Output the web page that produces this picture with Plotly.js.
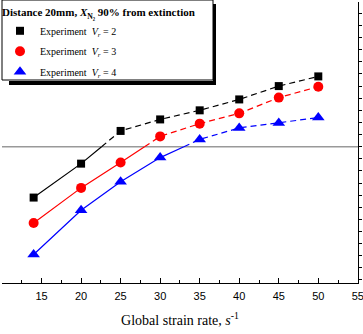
<!DOCTYPE html>
<html>
<head>
<meta charset="utf-8">
<script src="https://cdn.plot.ly/plotly-3.0.1.min.js"></script>
<style>html,body{margin:0;padding:0;background:#fff}#chart{width:363px;height:334px}</style>
</head>
<body>
<div id="chart"></div>
<script>
// ---- data (y axis carries no labels, units = tick steps) ----
const strainRate = [14, 20, 25, 30, 35, 40, 45, 50];
const vr2 = [-4.2, -1.4, 1.3, 2.25, 3.0, 3.9, 5.0, 5.8];
const vr3 = [-6.3, -3.4, -1.3, 0.85, 1.9, 2.75, 4.05, 4.95];
const vr4 = [-8.9, -5.25, -2.9, -0.9, 0.6, 1.55, 1.95, 2.4];
const extinctionLevel = 0;
const seriesNames = ['Experiment\u00a0\u00a0<i>V</i><sub><i>r</i></sub>\u00a0= 2',
                     'Experiment\u00a0\u00a0<i>V</i><sub><i>r</i></sub>\u00a0= 3',
                     'Experiment\u00a0\u00a0<i>V</i><sub><i>r</i></sub>\u00a0= 4'];
const xTickVals = [15, 20, 25, 30, 35, 40, 45, 50, 55];
const xMinorVals = [12.5, 17.5, 22.5, 27.5, 32.5, 37.5, 42.5, 47.5, 52.5];

const colors = ['#000000', '#ff0000', '#0000ff'];
const symbols = ['square', 'circle', 'triangle-up'];
const sizes = [8, 10, 11];

// split a series into the part below the extinction level (solid) and above (dashed)
function split(xs, ys, level) {
  const sx = [], sy = [], dx = [], dy = [];
  let crossed = false;
  for (let i = 0; i < xs.length; i++) {
    if (!crossed && ys[i] <= level) { sx.push(xs[i]); sy.push(ys[i]); }
    else {
      if (!crossed) {
        crossed = true;
        if (i > 0) {
          const t = (level - ys[i-1]) / (ys[i] - ys[i-1]);
          const cx = xs[i-1] + t * (xs[i] - xs[i-1]);
          sx.push(cx); sy.push(level); dx.push(cx); dy.push(level);
        }
      }
      dx.push(xs[i]); dy.push(ys[i]);
    }
  }
  return {sx, sy, dx, dy};
}

const allSeries = [vr2, vr3, vr4];
const traces = [];
allSeries.forEach((ys, k) => {
  const p = split(strainRate, ys, extinctionLevel);
  traces.push({x: p.sx, y: p.sy, mode: 'lines', showlegend: false, hoverinfo: 'skip',
               legendgroup: 'g' + k, line: {color: colors[k], width: 1.2}});
  traces.push({x: p.dx, y: p.dy, mode: 'lines', showlegend: false, hoverinfo: 'skip',
               legendgroup: 'g' + k, line: {color: colors[k], width: 1.2, dash: '6px,4px'}});
});
allSeries.forEach((ys, k) => {
  traces.push({x: strainRate, y: ys, mode: 'markers', name: seriesNames[k], legendgroup: 'g' + k,
               marker: {color: colors[k], symbol: symbols[k], size: sizes[k]}});
});

const layout = {
  width: 363, height: 334,
  margin: {l: 0, r: 5, t: 2, b: 51},
  paper_bgcolor: '#fff', plot_bgcolor: '#fff',
  showlegend: true,
  legend: {
    x: -0.006, y: 1, xanchor: 'left', yanchor: 'top',
    bgcolor: 'rgba(0,0,0,0)', borderwidth: 0,
    font: {family: 'Liberation Serif', size: 10, color: '#000'},
    title: {text: '<b>Distance 20mm, <i>X</i><sub>N₂</sub> 90% from extinction</b>',
            font: {family: 'Liberation Serif', size: 11, color: '#000'}},
    traceorder: 'grouped', tracegroupgap: 1.5
  },
  xaxis: {
    range: [10, 55.02], showgrid: false, zeroline: false,
    showline: true, linecolor: '#000', linewidth: 1,
    ticks: 'inside', ticklen: 5, tickcolor: '#000',
    tickmode: 'array', tickvals: xTickVals, ticktext: xTickVals.map(String),
    minor: {tickmode: 'array', tickvals: xMinorVals, ticks: 'inside', ticklen: 3, tickcolor: '#000'},
    ticklabelstandoff: 3, ticklabeloverflow: 'allow',
    tickfont: {family: 'Liberation Sans', size: 11, color: '#000'},
    title: {text: 'Global strain rate, <i>s</i><sup>-1</sup>', standoff: 13,
            font: {family: 'Liberation Serif', size: 14, color: '#000'}}
  },
  yaxis: {
    range: [-11.25, 11.94], side: 'right', showgrid: false, zeroline: false,
    showline: true, linecolor: '#000', linewidth: 1,
    ticks: 'outside', ticklen: 3, tickcolor: '#000',
    tick0: 0, dtick: 1, showticklabels: false
  },
  shapes: [
    {type: 'line', xref: 'paper', x0: 0, x1: 1, yref: 'y', y0: extinctionLevel, y1: extinctionLevel,
     line: {color: '#999999', width: 1.5}, layer: 'below'},
    {type: 'rect', xref: 'paper', xsizemode: 'pixel', xanchor: 0, x0: 0, x1: 211,
     yref: 'paper', ysizemode: 'pixel', yanchor: 1, y0: -78, y1: 2,
     fillcolor: '#fff', line: {color: '#000', width: 1}, layer: 'above'},
    {type: 'rect', xref: 'paper', xsizemode: 'pixel', xanchor: 0, x0: 211, x1: 214,
     yref: 'paper', ysizemode: 'pixel', yanchor: 1, y0: -83, y1: -2,
     fillcolor: '#000', line: {width: 0}, layer: 'above'},
    {type: 'rect', xref: 'paper', xsizemode: 'pixel', xanchor: 0, x0: 7, x1: 214,
     yref: 'paper', ysizemode: 'pixel', yanchor: 1, y0: -83, y1: -79,
     fillcolor: '#000', line: {width: 0}, layer: 'above'}
  ]
};

Plotly.newPlot('chart', traces, layout, {displayModeBar: false, staticPlot: true});
</script>
</body>
</html>
